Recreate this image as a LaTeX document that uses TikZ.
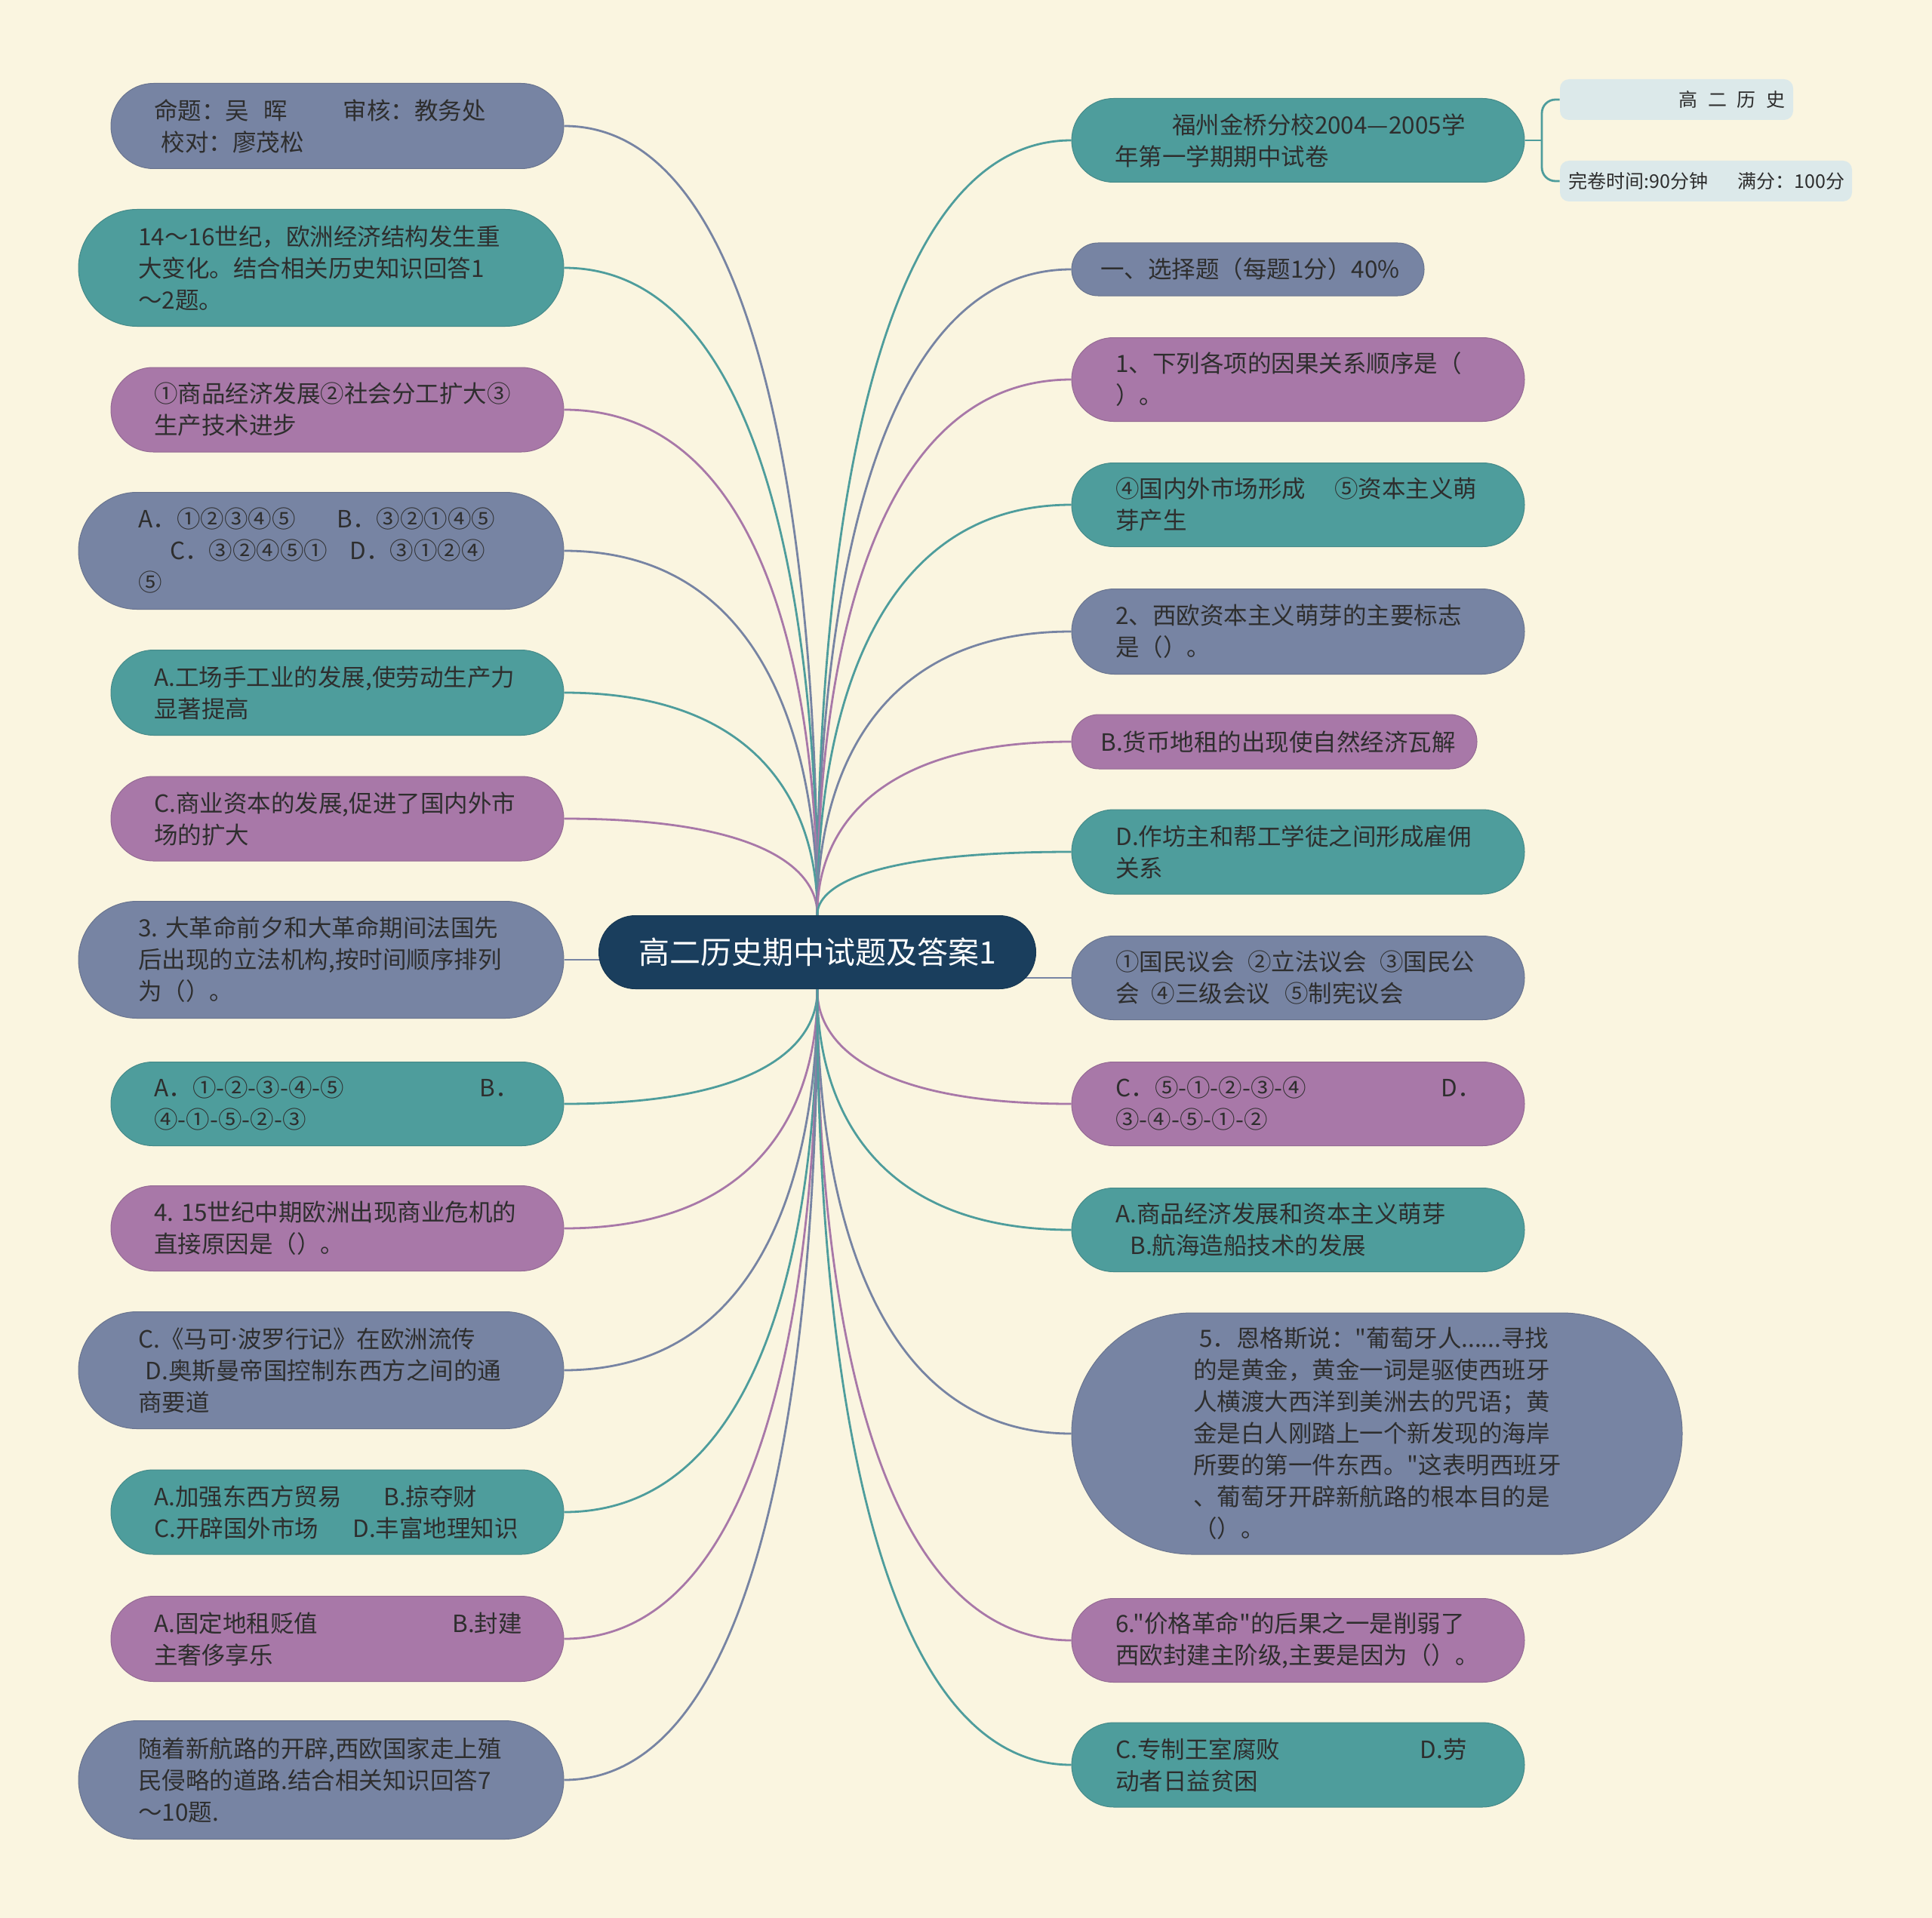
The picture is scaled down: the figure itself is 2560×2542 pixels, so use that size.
\documentclass[tikz,border=0pt]{standalone}
\usepackage{fontspec}
\setmainfont{Noto Sans CJK SC}
\newfontfamily\cjk{Noto Sans CJK SC}
\newfontfamily\latinf{Noto Sans}
\usetikzlibrary{calc,backgrounds}
\definecolor{bg}{HTML}{FAF5E0}
\definecolor{cblue}{HTML}{7784A3}
\definecolor{cteal}{HTML}{4E9D9C}
\definecolor{cpurp}{HTML}{A878A8}
\definecolor{cnavy}{HTML}{1A3E5D}
\definecolor{clight}{HTML}{DCE9EA}
\definecolor{ctext}{HTML}{2E2E2E}
\tikzset{
  pill/.style={fill=#1, draw=#1!88!black, line width=0.5pt, inner sep=0pt},
  lbox/.style={fill=clight, draw=none, rounded corners=6pt, inner sep=0pt},
  txt/.style={anchor=west, align=left, inner sep=0pt, text=ctext, font=\cjk\fontsize{15.75pt}{21pt}\selectfont},
  smalltxt/.style={inner sep=0pt, text=ctext, font=\cjk\fontsize{12.5pt}{16pt}\selectfont},
  conn/.style={draw=#1, line width=1.4pt},
}
\newcommand\topconn[3]{\draw[conn=#1] (c.north) .. controls ($(c.north)!0.15!(c.north|-#2.#3)$) and (c.north|-#2.#3) .. (#2.#3);}
\newcommand\botconn[3]{\draw[conn=#1] (c.south) .. controls ($(c.south)!0.15!(c.south|-#2.#3)$) and (c.south|-#2.#3) .. (#2.#3);}
\begin{document}
\begin{tikzpicture}[x=0.5pt,y=-0.5pt]
\useasboundingbox (0,0) rectangle (2560,2542);
% central
\node[pill=cnavy, minimum width=289.5pt, minimum height=48.5pt, rounded corners=24.2pt, text=white, font=\cjk\fontsize{20.5pt}{24pt}\selectfont] (c) at (1083,1262) {高二历史期中试题及答案1};
% left pills
\node[pill=cblue, minimum width=300pt, minimum height=56.5pt, rounded corners=28.2pt] (l1) at (447,167) {};
\node[pill=cteal, minimum width=321.5pt, minimum height=77.5pt, rounded corners=38.7pt] (l2) at (425.5,355) {};
\node[pill=cpurp, minimum width=300pt, minimum height=56pt, rounded corners=27.95pt] (l3) at (447,543) {};
\node[pill=cblue, minimum width=321.5pt, minimum height=77.5pt, rounded corners=38.7pt] (l4) at (425.5,730) {};
\node[pill=cteal, minimum width=300pt, minimum height=56.5pt, rounded corners=28.2pt] (l5) at (447,918) {};
\node[pill=cpurp, minimum width=300pt, minimum height=56pt, rounded corners=27.95pt] (l6) at (447,1085) {};
\node[pill=cblue, minimum width=321.5pt, minimum height=77.5pt, rounded corners=38.7pt] (l7) at (425.5,1272) {};
\node[pill=cteal, minimum width=300pt, minimum height=55.5pt, rounded corners=27.7pt] (l8) at (447,1463) {};
\node[pill=cpurp, minimum width=300pt, minimum height=56.5pt, rounded corners=28.2pt] (l9) at (447,1628) {};
\node[pill=cblue, minimum width=321.5pt, minimum height=77.5pt, rounded corners=38.7pt] (l10) at (425.5,1816) {};
\node[pill=cteal, minimum width=300pt, minimum height=56pt, rounded corners=27.95pt] (l11) at (447,2004) {};
\node[pill=cpurp, minimum width=300pt, minimum height=56.5pt, rounded corners=28.2pt] (l12) at (447,2172) {};
\node[pill=cblue, minimum width=321.5pt, minimum height=78.5pt, rounded corners=39.2pt] (l13) at (425.5,2359) {};
% right pills
\node[pill=cteal, minimum width=300pt, minimum height=55.5pt, rounded corners=27.7pt] (r1) at (1720,186) {};
\node[pill=cblue, minimum width=233.5pt, minimum height=35pt, rounded corners=17.45pt] (r2) at (1653.5,357) {};
\node[pill=cpurp, minimum width=300pt, minimum height=55.5pt, rounded corners=27.7pt] (r3) at (1720,503) {};
\node[pill=cteal, minimum width=300pt, minimum height=55.5pt, rounded corners=27.7pt] (r4) at (1720,669) {};
\node[pill=cblue, minimum width=300pt, minimum height=56.5pt, rounded corners=28.2pt] (r5) at (1720,837) {};
\node[pill=cpurp, minimum width=268.5pt, minimum height=36pt, rounded corners=17.95pt] (r6) at (1688.5,983) {};
\node[pill=cteal, minimum width=300pt, minimum height=56pt, rounded corners=27.95pt] (r7) at (1720,1129) {};
\node[pill=cblue, minimum width=300pt, minimum height=55.5pt, rounded corners=27.7pt] (r8) at (1720,1296) {};
\node[pill=cpurp, minimum width=300pt, minimum height=55.5pt, rounded corners=27.7pt] (r9) at (1720,1463) {};
\node[pill=cteal, minimum width=300pt, minimum height=55.5pt, rounded corners=27.7pt] (r10) at (1720,1630) {};
\node[pill=cblue, minimum width=404.5pt, minimum height=160pt, rounded corners=79.9pt] (r11) at (1824.5,1900) {};
\node[pill=cpurp, minimum width=300pt, minimum height=55.5pt, rounded corners=27.7pt] (r12) at (1720,2174) {};
\node[pill=cteal, minimum width=300pt, minimum height=56pt, rounded corners=27.95pt] (r13) at (1720,2339) {};
% sub boxes
\node[lbox, minimum width=154.5pt, minimum height=27pt] (r1a) at (2221.5,132) {};
\node[lbox, minimum width=193.5pt, minimum height=27pt] (r1b) at (2260.5,240) {};
% connectors
\begin{scope}[on background layer]
\fill[bg] (0,0) rectangle (2560,2542);
\topconn{cblue}{l1}{east}
\topconn{cteal}{l2}{east}
\topconn{cpurp}{l3}{east}
\topconn{cblue}{l4}{east}
\topconn{cteal}{l5}{east}
\topconn{cpurp}{l6}{east}
\draw[conn=cblue] (c.center|-l7.east) -- (l7.east);
\botconn{cteal}{l8}{east}
\botconn{cpurp}{l9}{east}
\botconn{cblue}{l10}{east}
\botconn{cteal}{l11}{east}
\botconn{cpurp}{l12}{east}
\botconn{cblue}{l13}{east}
\topconn{cteal}{r1}{west}
\topconn{cblue}{r2}{west}
\topconn{cpurp}{r3}{west}
\topconn{cteal}{r4}{west}
\topconn{cblue}{r5}{west}
\topconn{cpurp}{r6}{west}
\topconn{cteal}{r7}{west}
\draw[conn=cblue] (c.center|-r8.west) -- (r8.west);
\botconn{cpurp}{r9}{west}
\botconn{cteal}{r10}{west}
\botconn{cblue}{r11}{west}
\botconn{cpurp}{r12}{west}
\botconn{cteal}{r13}{west}
\coordinate (j) at (2043,186);
\draw[conn=cteal] (r1.east) -- (j);
\draw[conn=cteal, rounded corners=9pt] (r1a.west) -| (j) |- (r1b.west);
\end{scope}
% left texts
\node[txt] (tl1) at (204,167) {\makebox[7.95em][l]{命题：吴\hspace{0.6em}晖}审核：教务处\\\hspace*{0.3em}校对：廖茂松};
\node[txt] (tl2) at (183,355) {14～16世纪，欧洲经济结构发生重\\大变化。结合相关历史知识回答1\\～2题。};
\node[txt] (tl3) at (204,543) {①商品经济发展②社会分工扩大③\\生产技术进步};
\node[txt] (tl4) at (183,730) {\makebox[8.35em][l]{A．①②③④⑤}B．③②①④⑤\\\hspace*{1.33em}\makebox[7.56em][l]{C．③②④⑤①}D．③①②④\\⑤};
\node[txt] (tl5) at (204,918) {A.工场手工业的发展,使劳动生产力\\显著提高};
\node[txt] (tl6) at (204,1085) {C.商业资本的发展,促进了国内外市\\场的扩大};
\node[txt] (tl7) at (183,1272) {3. 大革命前夕和大革命期间法国先\\后出现的立法机构,按时间顺序排列\\为（）。};
\node[txt] (tl8) at (204,1463) {\makebox[13.68em][l]{A．①-②-③-④-⑤}B．\\④-①-⑤-②-③};
\node[txt] (tl9) at (204,1628) {4. 15世纪中期欧洲出现商业危机的\\直接原因是（）。};
\node[txt] (tl10) at (183,1816) {C.《马可{\latinf ·}波罗行记》在欧洲流传\\\hspace*{0.3em}D.奥斯曼帝国控制东西方之间的通\\商要道};
\node[txt] (tl11) at (204,2004) {\makebox[9.65em][l]{A.加强东西方贸易}B.掠夺财\\\makebox[8.35em][l]{C.开辟国外市场}D.丰富地理知识};
\node[txt] (tl12) at (204,2172) {\makebox[12.54em][l]{A.固定地租贬值}B.封建\\主奢侈享乐};
\node[txt] (tl13) at (183,2359) {随着新航路的开辟,西欧国家走上殖\\民侵略的道路.结合相关知识回答7\\～10题.};
% right texts
\node[txt] (tr1) at (1477,186) {\hspace*{2.4em}福州金桥分校2004—2005学\\年第一学期期中试卷};
\node[smalltxt, anchor=east] (tr1a) at (2366,132) {高\hspace{0.55em}二\hspace{0.55em}历\hspace{0.55em}史};
\node[smalltxt, anchor=west] (tr1b) at (2078,240) {\makebox[8.96em][l]{完卷时间:90分钟}满分：100分};
\node[txt] (tr2) at (1458,357) {一、选择题（每题1分）40\%};
\node[txt] (tr3) at (1478,503) {1、下列各项的因果关系顺序是（\\）。};
\node[txt] (tr4) at (1478,669) {\makebox[9.2em][l]{④国内外市场形成}⑤资本主义萌\\芽产生};
\node[txt] (tr5) at (1478,837) {2、西欧资本主义萌芽的主要标志\\是（）。};
\node[txt] (tr6) at (1458,983) {B.货币地租的出现使自然经济瓦解};
\node[txt] (tr7) at (1478,1129) {D.作坊主和帮工学徒之间形成雇佣\\关系};
\node[txt] (tr8) at (1478,1296) {①国民议会\hspace{0.55em}②立法议会\hspace{0.55em}③国民公\\会\hspace{0.5em}④三级会议\hspace{0.6em}⑤制宪议会};
\node[txt] (tr9) at (1478,1463) {\makebox[13.68em][l]{C．⑤-①-②-③-④}D．\\③-④-⑤-①-②};
\node[txt] (tr10) at (1478,1630) {A.商品经济发展和资本主义萌芽\\\hspace*{0.6em}B.航海造船技术的发展};
\node[txt] (tr11) at (1581,1900) {\hspace*{0.25em}5．恩格斯说："葡萄牙人......寻找\\的是黄金，黄金一词是驱使西班牙\\人横渡大西洋到美洲去的咒语；黄\\金是白人刚踏上一个新发现的海岸\\所要的第一件东西。"这表明西班牙\\、葡萄牙开辟新航路的根本目的是\\（）。};
\node[txt] (tr12) at (1478,2174) {6."价格革命"的后果之一是削弱了\\西欧封建主阶级,主要是因为（）。};
\node[txt] (tr13) at (1478,2339) {\makebox[12.8em][l]{C.专制王室腐败}D.劳\\动者日益贫困};
\end{tikzpicture}
\end{document}
